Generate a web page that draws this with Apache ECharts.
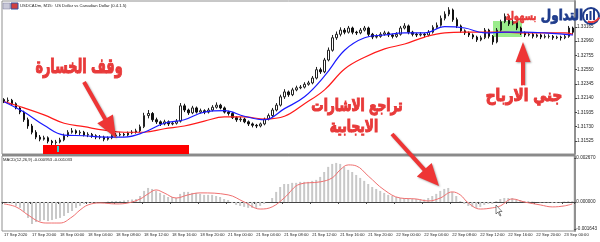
<!DOCTYPE html>
<html>
<head>
<meta charset="utf-8">
<script src="https://cdn.jsdelivr.net/npm/echarts@6/dist/echarts.min.js"></script>
<style>html,body{margin:0;padding:0;background:#fff}#c{width:600px;height:242px}</style>
</head>
<body>
<div id="c"></div>
<script>
// ---------- DATA ----------
const timeLabels = ["17 Sep 2020","17 Sep 20:00","18 Sep 00:00","18 Sep 04:00","18 Sep 08:00","18 Sep 12:00","18 Sep 16:00","18 Sep 20:00","21 Sep 00:00","21 Sep 04:00","21 Sep 08:00","21 Sep 12:00","21 Sep 16:00","21 Sep 20:00","22 Sep 00:00","22 Sep 04:00","22 Sep 08:00","22 Sep 12:00","22 Sep 16:00","22 Sep 20:00","23 Sep 00:00"];
const priceTicks = [1.31525,1.31730,1.31935,1.32140,1.32345,1.32550,1.32755,1.32960,1.33165];
const macdTicks = [-0.001643,0,0.002670];
// [open, close, low, high]
const candles = [
[1.3212,1.3210,1.3207,1.3214],[1.3210,1.3211,1.3208,1.3215],[1.3211,1.3206,1.3204,1.3213],[1.3206,1.3200,1.3198,1.3208],[1.3200,1.3194,1.3191,1.3202],
[1.3194,1.3183,1.3180,1.3196],[1.3183,1.3174,1.3170,1.3186],[1.3174,1.3165,1.3162,1.3177],[1.3165,1.3158,1.3155,1.3168],[1.3158,1.3155,1.3152,1.3161],
[1.3155,1.3157,1.3153,1.3160],[1.3157,1.3152,1.3149,1.3159],[1.3152,1.3150,1.3146,1.3154],[1.3150,1.3151,1.3147,1.3154],[1.3151,1.3154,1.3149,1.3157],
[1.3154,1.3160,1.3152,1.3163],[1.3160,1.3165,1.3158,1.3168],[1.3165,1.3167,1.3163,1.3171],[1.3167,1.3164,1.3162,1.3169],[1.3164,1.3165,1.3161,1.3168],
[1.3165,1.3161,1.3159,1.3167],[1.3161,1.3162,1.3158,1.3165],[1.3162,1.3160,1.3157,1.3164],[1.3160,1.3158,1.3155,1.3162],[1.3158,1.3158,1.3155,1.3161],
[1.3158,1.3155,1.3152,1.3160],[1.3155,1.3157,1.3153,1.3159],[1.3157,1.3160,1.3155,1.3162],[1.3160,1.3161,1.3158,1.3164],[1.3161,1.3162,1.3159,1.3165],
[1.3162,1.3161,1.3159,1.3164],[1.3161,1.3164,1.3159,1.3166],[1.3164,1.3165,1.3162,1.3168],[1.3165,1.3167,1.3163,1.3170],[1.3167,1.3173,1.3165,1.3176],
[1.3173,1.3189,1.3171,1.3193],[1.3189,1.3192,1.3185,1.3197],[1.3192,1.3183,1.3180,1.3194],[1.3183,1.3180,1.3177,1.3186],[1.3180,1.3177,1.3174,1.3182],
[1.3177,1.3180,1.3175,1.3183],[1.3180,1.3177,1.3174,1.3182],[1.3177,1.3178,1.3175,1.3181],[1.3178,1.3181,1.3176,1.3184],[1.3181,1.3203,1.3179,1.3207],
[1.3203,1.3197,1.3194,1.3206],[1.3197,1.3193,1.3190,1.3199],[1.3193,1.3200,1.3191,1.3203],[1.3200,1.3194,1.3192,1.3202],[1.3194,1.3196,1.3192,1.3199],
[1.3196,1.3194,1.3191,1.3198],[1.3194,1.3197,1.3192,1.3200],[1.3197,1.3201,1.3195,1.3204],[1.3201,1.3204,1.3199,1.3208],[1.3204,1.3200,1.3198,1.3206],
[1.3200,1.3194,1.3192,1.3202],[1.3194,1.3192,1.3189,1.3196],[1.3192,1.3186,1.3184,1.3194],[1.3186,1.3183,1.3180,1.3188],[1.3183,1.3184,1.3180,1.3187],
[1.3184,1.3180,1.3178,1.3186],[1.3180,1.3177,1.3174,1.3182],[1.3177,1.3175,1.3172,1.3179],[1.3175,1.3174,1.3171,1.3177],[1.3174,1.3177,1.3172,1.3179],
[1.3177,1.3184,1.3175,1.3186],[1.3184,1.3189,1.3182,1.3192],[1.3189,1.3197,1.3187,1.3200],[1.3197,1.3204,1.3195,1.3207],[1.3204,1.3216,1.3202,1.3219],
[1.3216,1.3223,1.3213,1.3227],[1.3223,1.3219,1.3216,1.3225],[1.3219,1.3226,1.3217,1.3229],[1.3226,1.3229,1.3224,1.3232],[1.3229,1.3230,1.3227,1.3233],
[1.3230,1.3234,1.3228,1.3237],[1.3234,1.3236,1.3232,1.3239],[1.3236,1.3243,1.3234,1.3246],[1.3243,1.3255,1.3241,1.3259],[1.3255,1.3252,1.3249,1.3258],
[1.3252,1.3269,1.3250,1.3272],[1.3269,1.3283,1.3267,1.3287],[1.3283,1.3301,1.3281,1.3305],[1.3301,1.3306,1.3298,1.3310],[1.3306,1.3312,1.3303,1.3316],
[1.3312,1.3309,1.3306,1.3315],[1.3309,1.3315,1.3307,1.3318],[1.3315,1.3309,1.3306,1.3317],[1.3309,1.3308,1.3305,1.3311],[1.3308,1.3312,1.3306,1.3315],
[1.3312,1.3315,1.3310,1.3318],[1.3315,1.3306,1.3303,1.3317],[1.3306,1.3302,1.3299,1.3308],[1.3302,1.3303,1.3300,1.3306],[1.3303,1.3306,1.3301,1.3309],
[1.3306,1.3308,1.3304,1.3311],[1.3308,1.3305,1.3302,1.3310],[1.3305,1.3303,1.3300,1.3307],[1.3303,1.3306,1.3301,1.3309],[1.3306,1.3315,1.3304,1.3318],
[1.3315,1.3318,1.3313,1.3322],[1.3318,1.3309,1.3306,1.3320],[1.3309,1.3306,1.3303,1.3311],[1.3306,1.3305,1.3302,1.3308],[1.3305,1.3306,1.3303,1.3309],
[1.3306,1.3305,1.3302,1.3308],[1.3305,1.3309,1.3303,1.3312],[1.3309,1.3316,1.3307,1.3319],[1.3316,1.3319,1.3314,1.3323],[1.3319,1.3329,1.3317,1.3333],
[1.3329,1.3335,1.3326,1.3339],[1.3335,1.3341,1.3332,1.3345],[1.3341,1.3327,1.3324,1.3343],[1.3327,1.3318,1.3315,1.3330],[1.3318,1.3311,1.3308,1.3320],
[1.3311,1.3308,1.3305,1.3313],[1.3308,1.3305,1.3302,1.3310],[1.3305,1.3302,1.3299,1.3307],[1.3302,1.3298,1.3295,1.3304],[1.3298,1.3301,1.3296,1.3304],
[1.3301,1.3312,1.3299,1.3315],[1.3312,1.3303,1.3300,1.3314],[1.3303,1.3295,1.3291,1.3305],[1.3295,1.3312,1.3293,1.3315],[1.3312,1.3324,1.3310,1.3327],
[1.3324,1.3332,1.3322,1.3336],[1.3332,1.3321,1.3318,1.3334],[1.3321,1.3324,1.3319,1.3328],[1.3324,1.3315,1.3312,1.3326],[1.3315,1.3308,1.3305,1.3317],
[1.3308,1.3305,1.3302,1.3310],[1.3305,1.3306,1.3303,1.3309],[1.3306,1.3303,1.3300,1.3308],[1.3303,1.3305,1.3301,1.3307],[1.3305,1.3302,1.3299,1.3307],
[1.3302,1.3303,1.3300,1.3306],[1.3303,1.3303,1.3300,1.3306],[1.3303,1.3301,1.3298,1.3305],[1.3301,1.3302,1.3299,1.3304],[1.3302,1.3301,1.3297,1.3304],
[1.3301,1.3303,1.3299,1.3306],[1.3303,1.3315,1.3301,1.3318],[1.3315,1.3309,1.3306,1.3317]
];
// moving averages read at sampled candle indices: [index, value]
const maFast = [[0,1.3209],[5,1.3194],[10,1.3175],[15,1.3161],[20,1.3160],[25,1.3158],[30,1.3158],[35,1.3165],[40,1.3178],[45,1.3183],[50,1.3194],[55,1.3196],[60,1.3188],[65,1.3183],[70,1.3199],[75,1.3216],[80,1.3246],[85,1.3283],[90,1.3301],[95,1.3305],[100,1.3308],[105,1.3308],[110,1.3317],[115,1.3315],[120,1.3308],[125,1.3309],[130,1.3309],[135,1.3308],[140,1.3306],[142,1.3305]];
const maSlow = [[0,1.3209],[5,1.3200],[10,1.3190],[15,1.3178],[20,1.3173],[25,1.3168],[30,1.3165],[35,1.3165],[40,1.3170],[45,1.3174],[50,1.3181],[55,1.3187],[60,1.3187],[65,1.3184],[70,1.3188],[75,1.3206],[80,1.3226],[85,1.3256],[90,1.3273],[95,1.3285],[100,1.3292],[105,1.3302],[110,1.3308],[115,1.3309],[120,1.3309],[125,1.3309],[130,1.3308],[135,1.3308],[140,1.3308],[142,1.3306]];
const macdHist = [
0,-0.00003,-0.0001,-0.00024,-0.00036,-0.0006,-0.00097,-0.00134,-0.00122,-0.00116,
-0.0011,-0.00116,-0.0011,-0.00103,-0.00097,-0.00085,-0.00067,-0.00055,-0.00036,-0.00024,
-0.00012,-0.00006,-0.00006,-0.00003,0,0,0.00003,0.00006,0.00006,0.00006,
0.00009,0.00012,0.00015,0.00018,0.00036,0.00067,0.00085,0.00079,0.00067,0.00055,
0.00043,0.0003,0.0003,0.00024,0.00049,0.00061,0.00061,0.00055,0.00055,0.00049,
0.00043,0.00043,0.00043,0.00036,0.0003,0.00018,0.00012,-0.00006,-0.00018,-0.00024,
-0.0003,-0.00036,-0.00036,-0.00036,-0.00024,-0.00012,0,0.00024,0.00061,0.00091,
0.00109,0.00109,0.00116,0.00116,0.00122,0.00122,0.00122,0.00128,0.00134,0.00152,
0.00182,0.00213,0.00231,0.00237,0.00231,0.00213,0.00195,0.00182,0.00164,0.00146,
0.00128,0.00109,0.00091,0.00079,0.00067,0.00055,0.00043,0.00036,0.0003,0.00024,
0.00024,0.00021,0.00018,0.00018,0.00015,0.00015,0.00024,0.00036,0.00049,0.00067,
0.00079,0.00085,0.00061,0.00036,0.00006,-0.00012,-0.00024,-0.0003,-0.00036,-0.0003,
-0.00018,-0.00012,-0.00012,0.00006,0.00018,0.00024,0.00024,0.00024,0.00018,0.00012,
0.00006,0.00006,0.00003,0,-0.00003,-0.00003,-0.00003,-0.00006,-0.00006,-0.00003,
0.00003,0.00006,0.00006
];
const macdSignal = [[0,-0.00012],[3,-0.0003],[6,-0.00079],[9,-0.00122],[11,-0.00128],[14,-0.00128],[17,-0.00091],[19,-0.00049],[21,-0.00018],[24,-0.00006],[28,-0.00012],[31,-0.00006],[34,0.00018],[36,0.00049],[38,0.00073],[40,0.00055],[43,0.00024],[46,0.00043],[49,0.00055],[56,0.00043],[60,0],[64,-0.00043],[67,-0.0003],[70,0.00024],[74,0.00109],[79,0.00122],[82,0.00146],[84,0.00195],[86,0.00225],[88,0.00219],[91,0.00158],[95,0.00073],[99,0.00024],[103,0.00018],[106,0.00006],[109,0.00024],[112,0.00061],[114,0.00043],[116,-0.00006],[119,-0.00043],[122,-0.00036],[124,-0.00024],[127,0.00018],[130,0],[134,-0.00018],[137,-0.0003],[140,-0.00024],[142,-0.00012]];

// ---------- CHART ----------
const cats = candles.map((c, i) => (i % 7 === 0 ? timeLabels[i / 7] : ''));
const showIdx = (i) => i % 7 === 0;
const yFont = { fontFamily: 'Liberation Sans', fontSize: 4.6, color: '#222' };
const xFont = { fontFamily: 'Liberation Sans', fontSize: 4.1, color: '#222' };

function arrow(x1, y1, x2, y2, sw, hw, hl) {
  const dx = x2 - x1, dy = y2 - y1, L = Math.hypot(dx, dy);
  const ux = dx / L, uy = dy / L, nx = -uy, ny = ux;
  const bx = x2 - ux * hl, by = y2 - uy * hl;
  return [
    [x1 + nx * sw / 2, y1 + ny * sw / 2], [bx + nx * sw / 2, by + ny * sw / 2],
    [bx + nx * hw / 2, by + ny * hw / 2], [x2, y2],
    [bx - nx * hw / 2, by - ny * hw / 2], [bx - nx * sw / 2, by - ny * sw / 2],
    [x1 - nx * sw / 2, y1 - ny * sw / 2]
  ];
}
const arrowStyle = { fill: '#ee3535', shadowColor: 'rgba(0,0,0,0.35)', shadowBlur: 2, shadowOffsetX: 1, shadowOffsetY: 1 };
function arText(t, x, y, size, sx) {
  const font = 'bold ' + size + 'px "DejaVu Sans"';
  const base = { text: t, font, textAlign: 'center', textVerticalAlign: 'middle' };
  return [
    { type: 'text', z: 100, x, y, scaleX: sx, style: Object.assign({ fill: '#ffffff', stroke: '#ffffff', lineWidth: 5, shadowColor: 'rgba(0,0,0,0.55)', shadowBlur: 2.5, shadowOffsetX: 1, shadowOffsetY: 1 }, base) },
    { type: 'text', z: 101, x, y, scaleX: sx, style: Object.assign({ fill: '#e83a3a', stroke: '#e83a3a', lineWidth: 1.1 }, base) }
  ];
}

const chart = echarts.init(document.getElementById('c'), null, { renderer: 'canvas' });
chart.setOption({
  animation: false,
  backgroundColor: '#ffffff',
  grid: [
    { left: 2, top: 1, width: 573, height: 153, show: true, borderColor: '#909090', borderWidth: 1, backgroundColor: 'transparent' },
    { left: 2, top: 156, width: 573, height: 75, show: true, borderColor: '#909090', borderWidth: 1, backgroundColor: 'transparent' }
  ],
  xAxis: [
    { type: 'category', gridIndex: 0, data: cats, axisLine: { show: false }, axisTick: { show: false }, axisLabel: { show: false }, splitLine: { show: false } },
    { type: 'category', gridIndex: 1, data: cats, axisLine: { show: true, lineStyle: { color: '#444', width: 1 } },
      axisTick: { show: true, interval: showIdx, length: 2, lineStyle: { color: '#444' } },
      axisLabel: Object.assign({ interval: showIdx, align: 'left', margin: 2 }, xFont), splitLine: { show: false } }
  ],
  yAxis: [
    { type: 'value', gridIndex: 0, position: 'right', min: 1.31337, max: 1.33539, scale: true,
      axisLine: { show: true, lineStyle: { color: '#909090', width: 2 } },
      axisTick: { show: true, customValues: priceTicks, length: 2, lineStyle: { color: '#444' } },
      axisLabel: Object.assign({ customValues: priceTicks, margin: 2, formatter: (v) => v.toFixed(5) }, yFont),
      splitLine: { show: false } },
    { type: 'value', gridIndex: 1, position: 'right', min: -0.001764, max: 0.002791,
      axisLine: { show: true, lineStyle: { color: '#909090', width: 2 } },
      axisTick: { show: true, customValues: macdTicks, length: 2, lineStyle: { color: '#444' } },
      axisLabel: Object.assign({ customValues: macdTicks, margin: 2, formatter: (v) => v.toFixed(6) }, yFont),
      splitLine: { show: false } }
  ],
  series: [
    { type: 'candlestick', xAxisIndex: 0, yAxisIndex: 0, data: candles, barWidth: 2,
      itemStyle: { color: '#ffffff', color0: '#111111', borderColor: '#222222', borderColor0: '#111111', borderWidth: 1 } },
    { type: 'line', xAxisIndex: 0, yAxisIndex: 0, data: maSlow, smooth: 0.4, showSymbol: false, lineStyle: { color: '#ff1a1a', width: 1.2 }, z: 3 },
    { type: 'line', xAxisIndex: 0, yAxisIndex: 0, data: maFast, smooth: 0.4, showSymbol: false, lineStyle: { color: '#1a1aff', width: 1.2 }, z: 3 },
    { type: 'bar', xAxisIndex: 1, yAxisIndex: 1, data: macdHist, barWidth: 2, itemStyle: { color: '#c8c8c8' } },
    { type: 'line', xAxisIndex: 1, yAxisIndex: 1, data: macdSignal, smooth: 0.4, showSymbol: false, lineStyle: { color: '#f07070', width: 1 }, z: 3 }
  ],
  graphic: [
    { type: 'rect', z: 50, shape: { x: 2, y: 154, width: 573, height: 2 }, style: { fill: '#8a8a8a' } },
    { type: 'rect', z: 50, shape: { x: 3, y: 3, width: 7, height: 6 }, style: { fill: '#c8c8d8', stroke: '#7a7a9a', lineWidth: 0.5 } },
    { type: 'rect', z: 50, shape: { x: 11, y: 3, width: 7, height: 6 }, style: { fill: '#d04040', stroke: '#3050a0', lineWidth: 1 } },
    { type: 'text', z: 50, x: 20, y: 6, style: { text: 'USDCADm, M15:  US Dollar vs Canadian Dollar (0.4.1.5)', font: '4.2px "Liberation Sans"', fill: '#222', textVerticalAlign: 'middle' } },
    { type: 'text', z: 50, x: 3, y: 160, style: { text: 'MACD(12,26,9) -0.000953 -0.001033', font: '4.2px "Liberation Sans"', fill: '#222', textVerticalAlign: 'middle' } },
    { type: 'rect', z: 0, shape: { x: 493, y: 21, width: 29, height: 16 }, style: { fill: 'rgba(120,230,100,0.75)' } },
    { type: 'rect', z: 60, shape: { x: 43, y: 145, width: 146, height: 9 }, style: { fill: '#ff0000' } },
    { type: 'rect', z: 61, shape: { x: 57, y: 146, width: 2, height: 6 }, style: { fill: '#30d0d0' } },
    { type: 'polygon', z: 90, shape: { points: arrow(84, 82, 116, 138, 4, 18, 22) }, style: arrowStyle },
    { type: 'polygon', z: 90, shape: { points: arrow(392, 134, 439, 186, 4, 20, 22) }, style: arrowStyle },
    { type: 'polygon', z: 90, shape: { points: arrow(523, 88, 523, 42, 4, 15, 20) }, style: arrowStyle },
    ...arText('وقف الخسارة', 79, 68, 20, 0.64),
    ...arText('تراجع الاشارات', 357, 107, 17, 0.72),
    ...arText('الايجابية', 354, 128, 17, 0.72),
    ...arText('جني الارباح', 524, 97, 17, 0.8),
    { type: 'text', z: 100, x: 562, y: 16, scaleX: 0.8, style: { text: 'التداول', font: 'bold 15px "DejaVu Sans"', fill: '#1f3c8c', stroke: '#1f3c8c', lineWidth: 0.8, textAlign: 'center', textVerticalAlign: 'middle' } },
    { type: 'text', z: 100, x: 521, y: 17, scaleX: 0.7, style: { text: 'بسهولة', font: 'bold 12px "DejaVu Sans"', fill: '#e83a3a', stroke: '#e83a3a', lineWidth: 0.6, textAlign: 'center', textVerticalAlign: 'middle' } },
    { type: 'circle', z: 100, shape: { cx: 591, cy: 16, r: 8 }, style: { fill: '#ffffff', stroke: '#1f3c8c', lineWidth: 2 } },
    { type: 'rect', z: 101, shape: { x: 586, y: 14, width: 2, height: 6 }, style: { fill: '#1f3c8c' } },
    { type: 'rect', z: 101, shape: { x: 589.5, y: 11, width: 2, height: 9 }, style: { fill: '#1f3c8c' } },
    { type: 'rect', z: 101, shape: { x: 593, y: 9, width: 2, height: 11 }, style: { fill: '#1f3c8c' } },
    { type: 'arc', z: 102, shape: { cx: 591, cy: 12, r: 10, startAngle: 1.9, endAngle: 0.6, clockwise: false }, style: { stroke: '#e83a3a', lineWidth: 2, fill: null } },
    { type: 'polygon', z: 100, shape: { points: [[496, 205], [496, 214], [498, 212], [500, 216], [501, 215.5], [499, 211.5], [502, 211.5]] }, style: { fill: '#ffffff', stroke: '#333', lineWidth: 0.6 } }
  ]
});
</script>
</body>
</html>
